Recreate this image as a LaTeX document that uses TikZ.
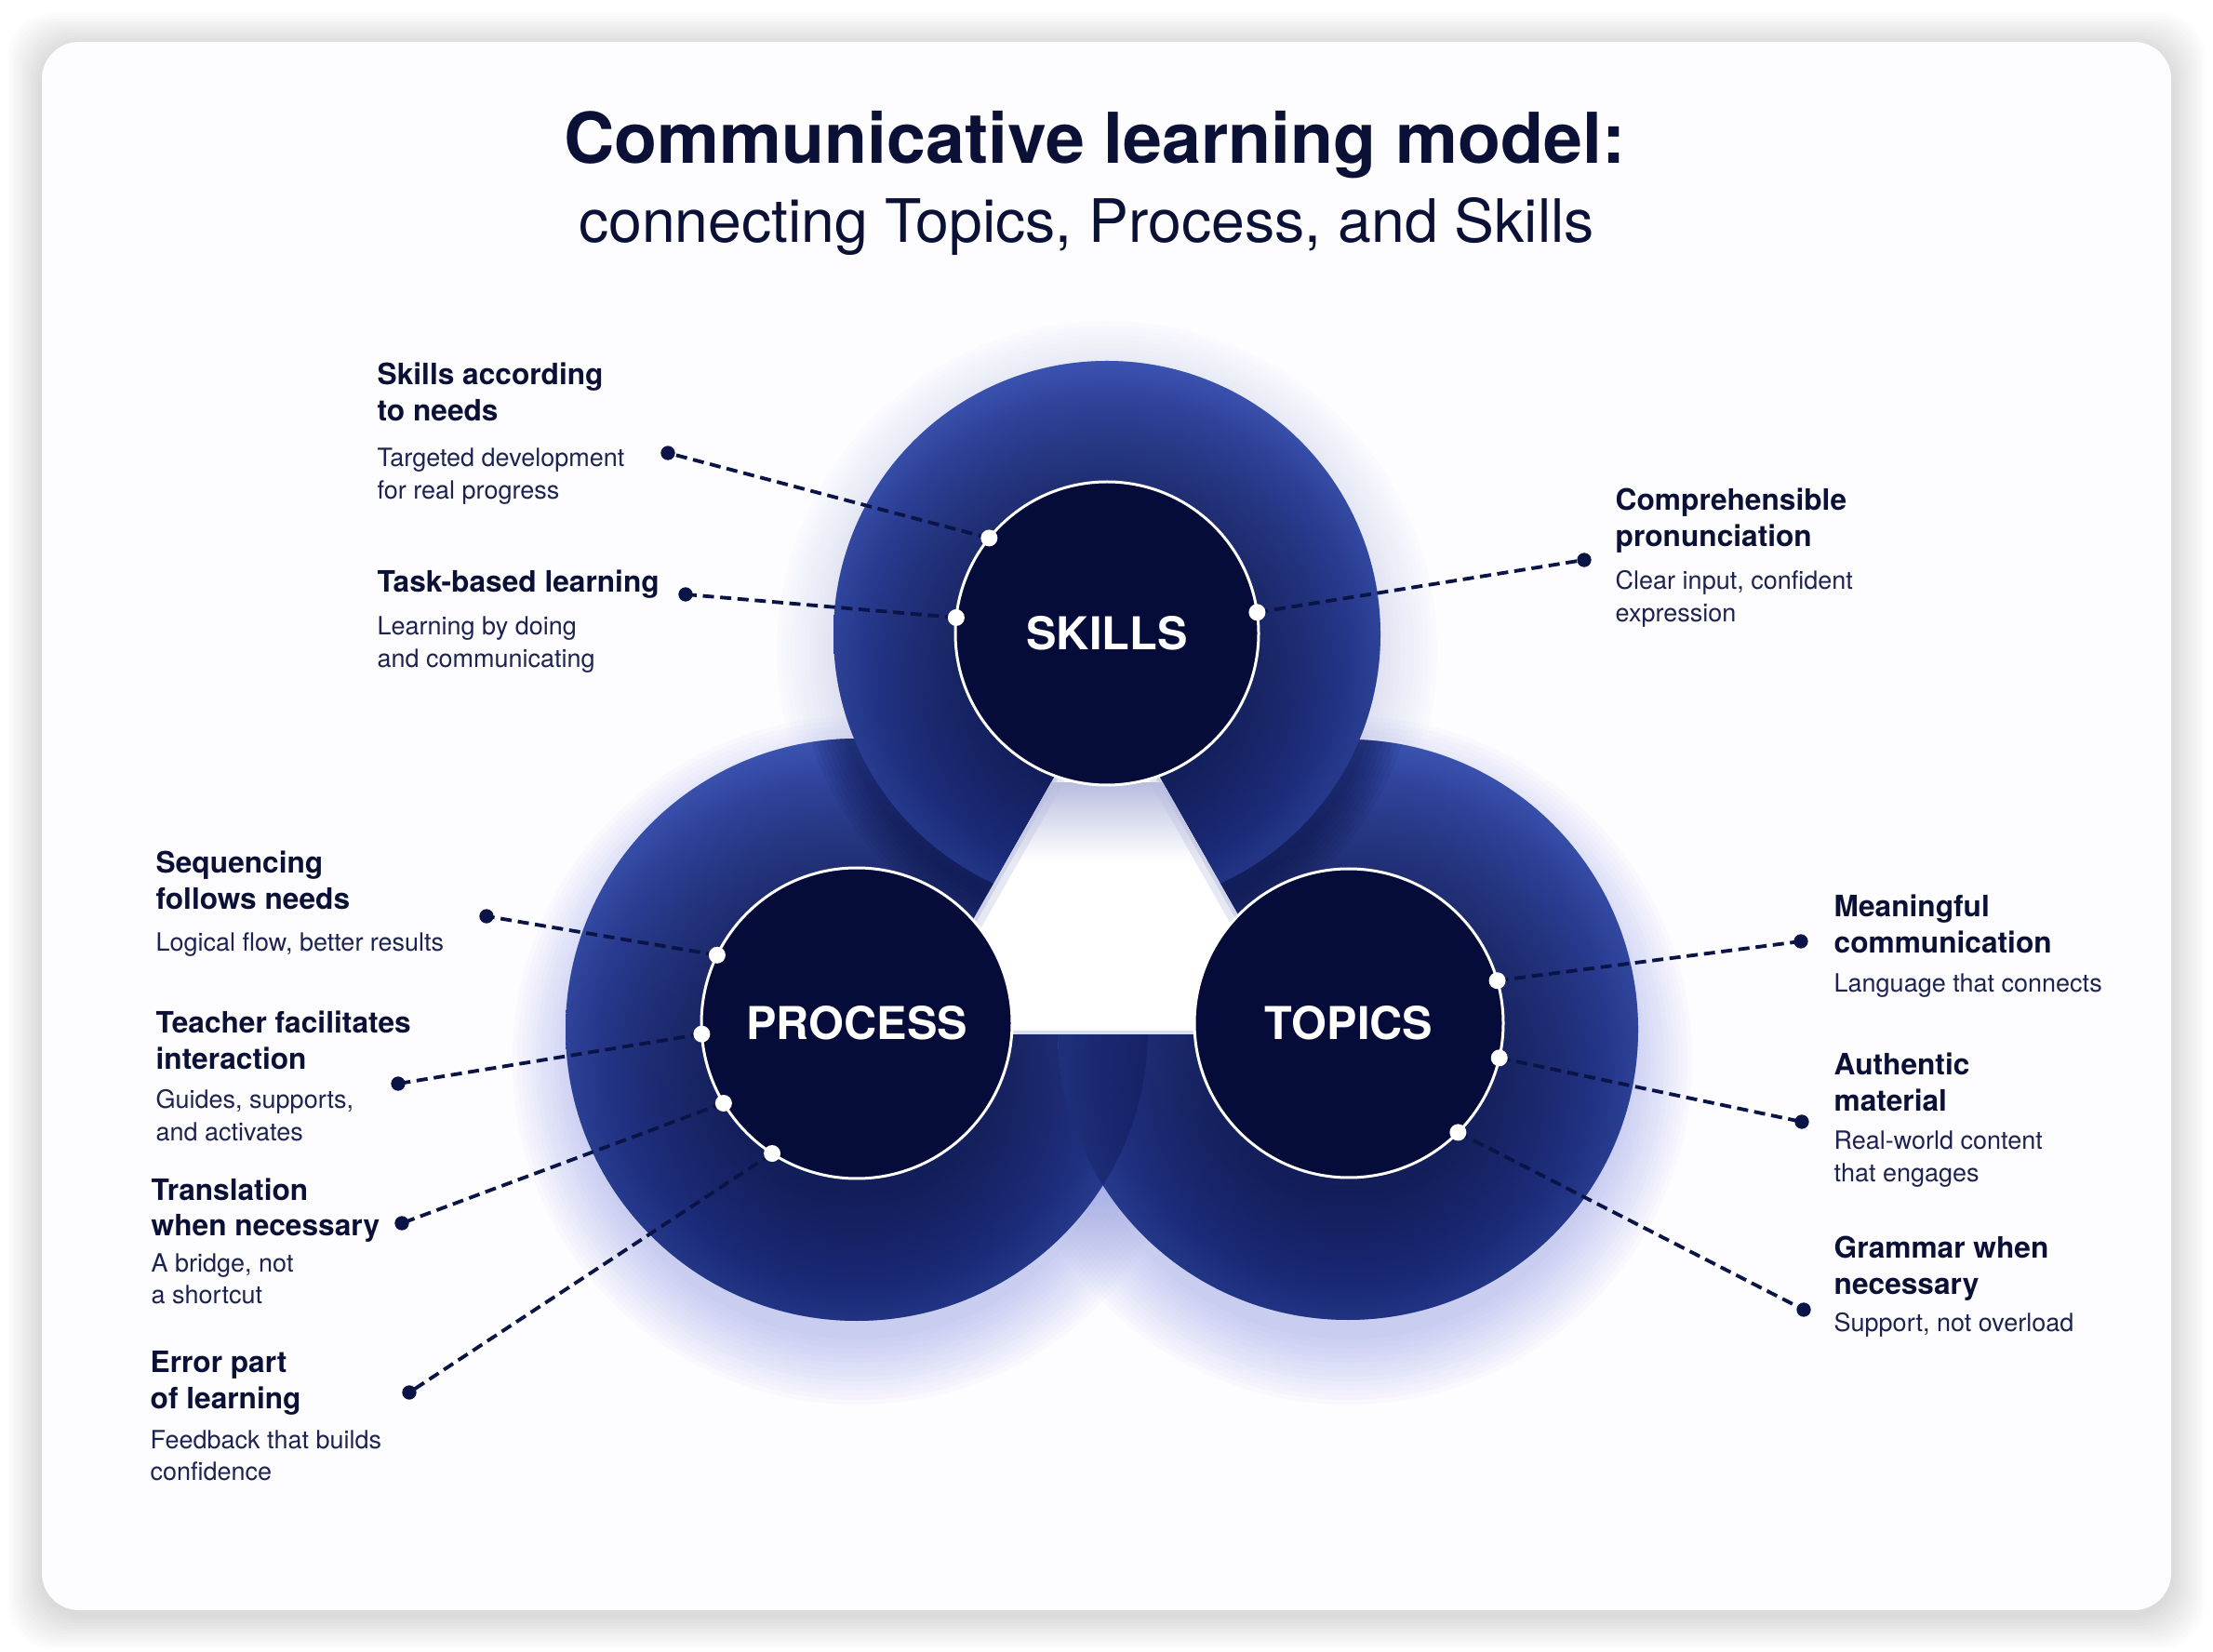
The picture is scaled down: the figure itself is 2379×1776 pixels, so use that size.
\documentclass[tikz,border=0pt]{standalone}
\usepackage{fontspec}
\setmainfont{TeX Gyre Heros}
\definecolor{ink}{HTML}{0B1136}
\definecolor{inkdesc}{HTML}{1D2351}
\definecolor{connc}{HTML}{0A1446}
\definecolor{corec}{HTML}{050C3A}
\definecolor{ringdark}{HTML}{0D1752}
\definecolor{ringmid1}{HTML}{16236C}
\definecolor{ringmid}{HTML}{20318A}
\definecolor{ringedge}{HTML}{2D44A2}
\definecolor{ringlight}{HTML}{5570CC}
\definecolor{ringlow}{HTML}{0B1548}
\definecolor{glowc}{HTML}{8E9BE8}
\definecolor{cardbg}{HTML}{FDFCFF}
\definecolor{lavc}{HTML}{B9BEDF}
\pgfdeclareradialshading{ringshade}{\pgfpoint{0bp}{0bp}}{color(0bp)=(ringdark); color(13.6bp)=(ringdark); color(18bp)=(ringmid1); color(22bp)=(ringmid); color(25bp)=(ringedge); color(50bp)=(ringedge)}
\newcommand\TwoL[2]{\vtop{\hbox{#1}\hbox{#2}}}
\tikzset{
  ttl/.style={anchor=base west, inner sep=0pt, text=ink, font=\fontsize{9.5}{11.7}\selectfont\bfseries},
  dsc/.style={anchor=base west, inner sep=0pt, text=inkdesc, font=\fontsize{8.1}{10.35}\selectfont},
  corenode/.style={circle, fill=corec, draw=white, line width=0.9pt, inner sep=0pt, outer sep=0pt, text=white, font=\fontsize{14.6}{17}\selectfont\bfseries},
  conn/.style={draw=connc, line width=1.15pt, dash pattern=on 3.6pt off 2pt},
  wdot/.style={circle, fill=white, inner sep=0pt, minimum size=5.4pt},
  ddot/.style={circle, fill=connc, inner sep=0pt, minimum size=4.6pt},
  bigring/.style={shading=ringshade},
  lightcap/.style={top color=ringlight, bottom color=ringlow, opacity=0.35},
}
\begin{document}
\begin{tikzpicture}[x=0.3pt, y=-0.3pt]
\useasboundingbox (0,0) rectangle (2379,1776);
\fill[white] (0,0) rectangle (2379,1776);
% card shadow and card
\foreach \i in {1,...,12} \fill[black, opacity=0.011, rounded corners=14pt] ({45-3*\i},{50-3*\i}) rectangle ({2334+3*\i},{1736+3*\i});
\fill[cardbg, rounded corners=12pt] (45,45) rectangle (2334,1731);
% title
\node[anchor=base, text=ink, font=\fontsize{22.6}{26}\selectfont\bfseries] (title) at (1177,176) {Communicative learning model:};
\node[anchor=base, text=ink, font=\fontsize{19.3}{23}\selectfont] (subtitle) at (1168,261) {connecting Topics, Process, and Skills};
% glow under circles
\foreach \i in {0,...,14} {
  \fill[glowc, opacity=0.035] (921,1140) circle[radius={300+5*\i}];
  \fill[glowc, opacity=0.035] (1449,1140) circle[radius={300+5*\i}];
  \fill[glowc, opacity=0.018] (1190,700) circle[radius={285+5*\i}];
}
% big circles
\shade[bigring] (921,1107) circle[radius=313];
\shade[lightcap] (921,1107) circle[radius=313];
\shade[bigring] (1449,1107) circle[radius=312];
\shade[lightcap] (1449,1107) circle[radius=312];
% darken overlap of the two lower rings
\begin{scope}
\clip (921,1107) circle[radius=313];
\fill[ringdark, opacity=0.4] (1449,1107) circle[radius=312];
\end{scope}
\begin{scope}
\clip (921,1107) circle[radius=313] (1449,1107) circle[radius=312];
\foreach \i in {1,...,8} \fill[corec, opacity=0.07] (1190,695) circle[radius={294+5*\i}];
\end{scope}
\shade[bigring] (1190,682) circle[radius=294];
\shade[lightcap] (1190,682) circle[radius=294];
% central triangle
\fill[white] (1190,736) -- (976,1112) -- (1404,1112) -- cycle;
\begin{scope}
\clip (1190,736) -- (976,1112) -- (1404,1112) -- cycle;
\shade[top color=lavc, bottom color=white] (970,842) rectangle (1410,925);
\draw[lavc, line width=7pt, opacity=0.35] (1190,736) -- (976,1112) (1190,736) -- (1404,1112);
\draw[lavc, line width=2.5pt, opacity=0.5] (1190,736) -- (976,1112) (1190,736) -- (1404,1112) (976,1112) -- (1404,1112);
\end{scope}
% inner circles
\node[corenode, minimum size=97.8pt] (skills) at (1190,681) {SKILLS};
\node[corenode, minimum size=100.2pt] (process) at (921,1100) {PROCESS};
\node[corenode, minimum size=99.6pt] (topics) at (1450,1100) {TOPICS};
% connector end points
\coordinate (sk1a) at (skills.141.2);
\coordinate (sk1b) at (718,487);
\coordinate (sk2a) at (skills.174.2);
\coordinate (sk2b) at (737,639);
\coordinate (sk3a) at (skills.8);
\coordinate (sk3b) at (1703,602);
\coordinate (pr1a) at (process.154.1);
\coordinate (pr1b) at (523,985);
\coordinate (pr2a) at (process.184.7);
\coordinate (pr2b) at (428,1165);
\coordinate (pr3a) at (process.211.4);
\coordinate (pr3b) at (432,1315);
\coordinate (pr4a) at (process.237.3);
\coordinate (pr4b) at (440,1497);
\coordinate (tp1a) at (topics.16.9);
\coordinate (tp1b) at (1936,1012);
\coordinate (tp2a) at (topics.-13.1);
\coordinate (tp2b) at (1937,1206);
\coordinate (tp3a) at (topics.-45.2);
\coordinate (tp3b) at (1939,1408);
% connectors
\foreach \n in {sk1,sk2,sk3,pr1,pr2,pr3,pr4,tp1,tp2,tp3} \draw[conn] (\n a) -- (\n b);
% dots
\foreach \n in {sk1,sk2,sk3,pr1,pr2,pr3,pr4,tp1,tp2,tp3} {
  \node[wdot] (\n w) at (\n a) {};
  \node[ddot] (\n d) at (\n b) {};
}
% labels: skills
\node[ttl] (sk1t) at (405,414) {\TwoL{Skills according}{to needs}};
\node[dsc] (sk1x) at (405,502) {\TwoL{Targeted development}{for real progress}};
\node[ttl] (sk2t) at (405,637) {Task-based learning};
\node[dsc] (sk2x) at (405,683) {\TwoL{Learning by doing}{and communicating}};
\node[ttl] (sk3t) at (1736,549) {\TwoL{Comprehensible}{pronunciation}};
\node[dsc] (sk3x) at (1736,634) {\TwoL{Clear input, confident}{expression}};
% labels: process
\node[ttl] (pr1t) at (167,939) {\TwoL{Sequencing}{follows needs}};
\node[dsc] (pr1x) at (167,1023) {Logical flow, better results};
\node[ttl] (pr2t) at (167,1111) {\TwoL{Teacher facilitates}{interaction}};
\node[dsc] (pr2x) at (167,1192) {\TwoL{Guides, supports,}{and activates}};
\node[ttl] (pr3t) at (162,1290) {\TwoL{Translation}{when necessary}};
\node[dsc] (pr3x) at (162,1367) {\TwoL{A bridge, not}{a shortcut}};
\node[ttl] (pr4t) at (161,1475) {\TwoL{Error part}{of learning}};
\node[dsc] (pr4x) at (161,1557) {\TwoL{Feedback that builds}{confidence}};
% labels: topics
\node[ttl] (tp1t) at (1971,986) {\TwoL{Meaningful}{communication}};
\node[dsc] (tp1x) at (1971,1067) {Language that connects};
\node[ttl] (tp2t) at (1971,1156) {\TwoL{Authentic}{material}};
\node[dsc] (tp2x) at (1971,1236) {\TwoL{Real-world content}{that engages}};
\node[ttl] (tp3t) at (1971,1352) {\TwoL{Grammar when}{necessary}};
\node[dsc] (tp3x) at (1971,1431) {Support, not overload};
\end{tikzpicture}
\end{document}
